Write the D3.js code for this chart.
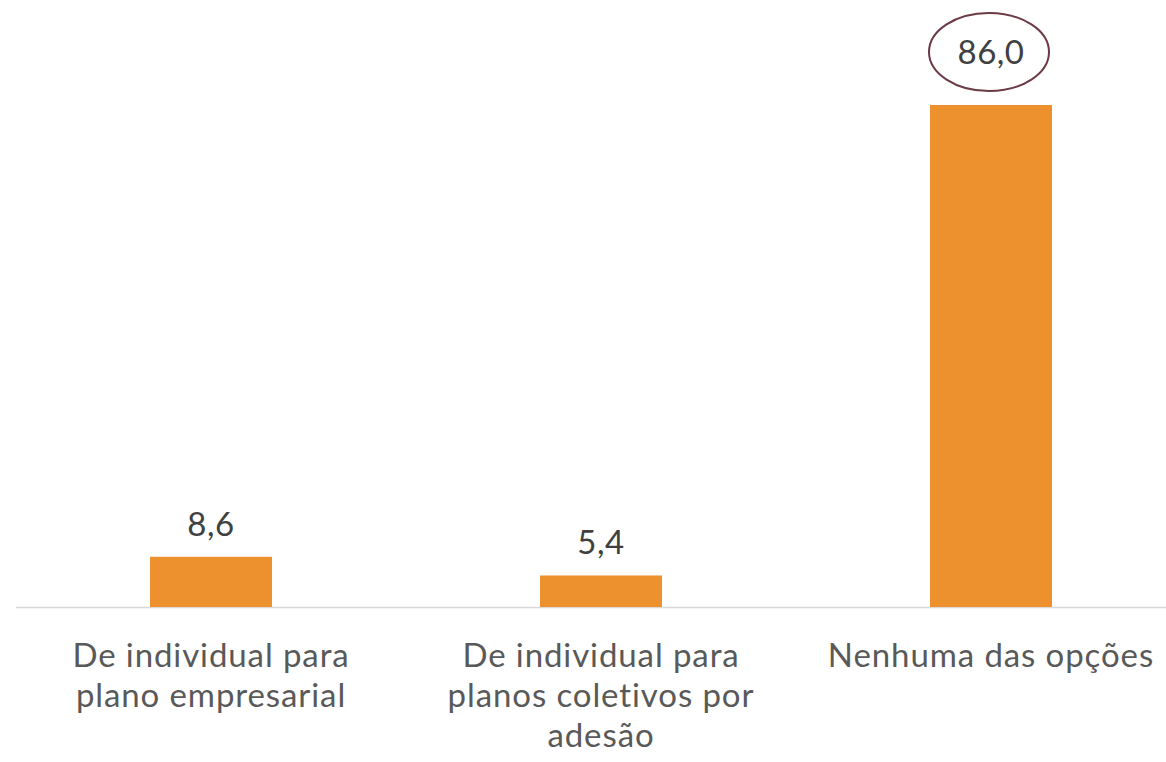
<!DOCTYPE html>
<html>
<head>
<meta charset="utf-8">
<script src="https://cdn.jsdelivr.net/npm/d3@7"></script>
<style>
  html, body { margin: 0; padding: 0; background: #ffffff; }
  svg { display: block; }
</style>
</head>
<body>
<svg id="chart" width="1166" height="762"></svg>
<script>
const categories = [
  ["De individual para", "plano empresarial"],
  ["De individual para", "planos coletivos por", "adesão"],
  ["Nenhuma das opções"]
];
const values = [8.6, 5.4, 86.0];
const valueLabels = ["8,6", "5,4", "86,0"];
const highlighted = [false, false, true];

const W = 1166, H = 762;
const baseY = 607;

const svg = d3.select("#chart");
const keys = categories.map((c, i) => i);

const step = 390;
const band = d3.scaleBand().domain(keys).range([16, 16 + step * 3]).paddingInner(0.6872).paddingOuter(0.3436);
const y = d3.scaleLinear().domain([0, 86]).range([baseY, 105]);

const font = "Lato, 'Open Sans', sans-serif";

// axis line
svg.append("line")
  .attr("x1", 16).attr("x2", W)
  .attr("y1", baseY + 0.5).attr("y2", baseY + 0.5)
  .attr("stroke", "#d9d9d9").attr("stroke-width", 1.5);

// bars
svg.selectAll("rect.bar")
  .data(values)
  .join("rect")
  .attr("class", "bar")
  .attr("x", (d, i) => band(i))
  .attr("width", band.bandwidth())
  .attr("y", d => y(d))
  .attr("height", d => baseY - y(d))
  .attr("fill", "#ed912e");

// value labels
svg.selectAll("text.val")
  .data(values)
  .join("text")
  .attr("class", "val")
  .attr("x", (d, i) => band(i) + band.bandwidth() / 2)
  .attr("y", (d, i) => y(d) - (highlighted[i] ? 41 : 21))
  .attr("text-anchor", "middle")
  .attr("font-family", font)
  .attr("font-size", 33)
  .attr("letter-spacing", 0.5)
  .attr("fill", "#404040")
  .text((d, i) => valueLabels[i]);

// highlight ellipse
values.forEach((d, i) => {
  if (!highlighted[i]) return;
  svg.append("ellipse")
    .attr("cx", band(i) + band.bandwidth() / 2 - 2)
    .attr("cy", y(d) - 53)
    .attr("rx", 60)
    .attr("ry", 39)
    .attr("fill", "none")
    .attr("stroke", "#6b3a45")
    .attr("stroke-width", 2);
});

// category labels
const cat = svg.selectAll("text.cat")
  .data(categories)
  .join("text")
  .attr("class", "cat")
  .attr("text-anchor", "middle")
  .attr("font-family", font)
  .attr("font-size", 33)
  .attr("letter-spacing", 0.9)
  .attr("fill", "#595959");

cat.each(function(lines, i) {
  const t = d3.select(this);
  lines.forEach((ln, j) => {
    t.append("tspan")
      .attr("x", band(i) + band.bandwidth() / 2)
      .attr("y", 667 + j * 40)
      .text(ln);
  });
});
</script>
</body>
</html>
